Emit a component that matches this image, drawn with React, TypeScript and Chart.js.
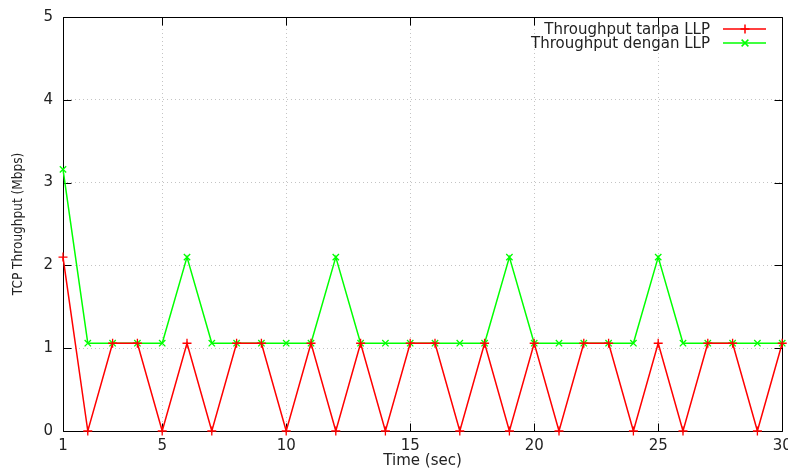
import React, { useEffect, useRef } from 'react';
import { Chart, registerables } from 'chart.js';

Chart.register(...registerables);

const timeSec = [1, 2, 3, 4, 5, 6, 7, 8, 9, 10, 11, 12, 13, 14, 15, 16, 17, 18, 19, 20, 21, 22, 23, 24, 25, 26, 27, 28, 29, 30];
const tanpaLLP = [2.1, 0, 1.06, 1.06, 0, 1.06, 0, 1.06, 1.06, 0, 1.06, 0, 1.06, 0, 1.06, 1.06, 0, 1.06, 0, 1.06, 0, 1.06, 1.06, 0, 1.06, 0, 1.06, 1.06, 0, 1.06];
const denganLLP = [3.16, 1.06, 1.06, 1.06, 1.06, 2.1, 1.06, 1.06, 1.06, 1.06, 1.06, 2.1, 1.06, 1.06, 1.06, 1.06, 1.06, 1.06, 2.1, 1.06, 1.06, 1.06, 1.06, 1.06, 2.1, 1.06, 1.06, 1.06, 1.06, 1.06];
const xTickValues = [1, 5, 10, 15, 20, 25, 30];
const yTickValues = [0, 1, 2, 3, 4, 5];
const seriesLabels = ['Throughput tanpa LLP', 'Throughput dengan LLP'];
const seriesColors = ['#ff0000', '#00ff00'];
const seriesMarkers = ['cross', 'crossRot'];
const xTitle = 'Time (sec)';
const yTitle = 'TCP Throughput (Mbps)';

const FONT = "'DejaVu Sans', sans-serif";
const TEXT = '#222222';

const gnuplotPlugin = {
  id: 'gnuplotFrame',
  beforeDatasetsDraw(chart: any) {
    const { ctx, chartArea } = chart;
    const xs = chart.scales.x;
    const ys = chart.scales.y;
    const l = Math.round(chartArea.left) + 0.5;
    const r = Math.round(chartArea.right) + 0.5;
    const t = Math.round(chartArea.top) + 0.5;
    const b = Math.round(chartArea.bottom) + 0.5;
    ctx.save();
    ctx.setLineDash([]);
    ctx.strokeStyle = '#000000';
    ctx.lineWidth = 1;
    ctx.beginPath();
    ctx.rect(l, t, r - l, b - t);
    const tl = 8;
    xTickValues.forEach((v) => {
      const px = Math.round(xs.getPixelForValue(v)) + 0.5;
      ctx.moveTo(px, b);
      ctx.lineTo(px, b - tl);
      ctx.moveTo(px, t);
      ctx.lineTo(px, t + tl);
    });
    yTickValues.forEach((v) => {
      const py = Math.round(ys.getPixelForValue(v)) + 0.5;
      ctx.moveTo(l, py);
      ctx.lineTo(l + tl, py);
      ctx.moveTo(r, py);
      ctx.lineTo(r - tl, py);
    });
    ctx.stroke();
    ctx.restore();
  },
  afterDraw(chart: any) {
    const { ctx, chartArea } = chart;
    ctx.save();
    ctx.setLineDash([]);
    ctx.fillStyle = TEXT;
    ctx.textAlign = 'center';
    ctx.textBaseline = 'middle';
    ctx.font = `15px ${FONT}`;
    ctx.fillText(xTitle, (chartArea.left + chartArea.right) / 2, 461);
    ctx.save();
    ctx.font = `13.5px ${FONT}`;
    ctx.translate(18, (chartArea.top + chartArea.bottom) / 2);
    ctx.rotate(-Math.PI / 2);
    ctx.scale(0.9, 1);
    ctx.fillText(yTitle, 0, 0);
    ctx.restore();
    const rows = [29, 43];
    ctx.font = `15px ${FONT}`;
    seriesLabels.forEach((lab, i) => {
      const y = rows[i];
      ctx.textAlign = 'right';
      ctx.textBaseline = 'middle';
      ctx.fillStyle = TEXT;
      ctx.fillText(lab, 710, y + 1);
      ctx.strokeStyle = seriesColors[i];
      ctx.lineWidth = 1.5;
      ctx.beginPath();
      ctx.moveTo(723, y);
      ctx.lineTo(766, y);
      ctx.stroke();
      const cx = 745;
      const s = 4.5;
      ctx.beginPath();
      if (seriesMarkers[i] === 'cross') {
        ctx.moveTo(cx, y - s);
        ctx.lineTo(cx, y + s);
        ctx.moveTo(cx - s, y);
        ctx.lineTo(cx + s, y);
      } else {
        const d = s * 0.75;
        ctx.moveTo(cx - d, y - d);
        ctx.lineTo(cx + d, y + d);
        ctx.moveTo(cx - d, y + d);
        ctx.lineTo(cx + d, y - d);
      }
      ctx.stroke();
    });
    ctx.restore();
  },
};

export default function App() {
  const ref = useRef<HTMLCanvasElement | null>(null);
  useEffect(() => {
    document.body.style.margin = '0';
    const canvas = ref.current;
    if (!canvas) return;
    const datasets = [tanpaLLP, denganLLP].map((vals, i) => ({
      label: seriesLabels[i],
      data: timeSec.map((t, j) => ({ x: t, y: vals[j] })),
      borderColor: seriesColors[i],
      backgroundColor: seriesColors[i],
      borderWidth: 1.5,
      pointStyle: seriesMarkers[i] as any,
      pointRadius: 4.5,
      pointBorderWidth: 1.3,
      pointBorderColor: seriesColors[i],
      pointHoverRadius: 4.5,
      tension: 0,
      fill: false,
      clip: false as any,
    }));
    const chart = new Chart(canvas, {
      type: 'line',
      data: { datasets },
      options: {
        animation: false,
        responsive: false,
        maintainAspectRatio: false,
        layout: { padding: { top: 17, right: 5, left: 0, bottom: 0 } },
        plugins: { legend: { display: false }, tooltip: { enabled: false }, title: { display: false } },
        scales: {
          x: {
            type: 'linear',
            min: 1,
            max: 30,
            afterBuildTicks: (scale: any) => {
              scale.ticks = xTickValues.map((v) => ({ value: v }));
            },
            afterFit: (scale: any) => {
              scale.height = 39;
              scale.paddingLeft = 0;
              scale.paddingRight = 0;
            },
            grid: { color: '#c4c4c4', lineWidth: 1, drawTicks: false },
            border: { display: false, dash: [1, 3] },
            ticks: {
              autoSkip: false,
              maxRotation: 0,
              padding: 6,
              color: TEXT,
              font: { family: FONT, size: 15 },
              callback: (v: any) => String(v),
            },
          },
          y: {
            type: 'linear',
            min: 0,
            max: 5,
            afterBuildTicks: (scale: any) => {
              scale.ticks = yTickValues.map((v) => ({ value: v }));
            },
            afterFit: (scale: any) => {
              scale.width = 63;
              scale.paddingTop = 0;
              scale.paddingBottom = 0;
            },
            grid: { color: '#c4c4c4', lineWidth: 1, drawTicks: false },
            border: { display: false, dash: [1, 3] },
            ticks: {
              padding: 10,
              color: TEXT,
              font: { family: FONT, size: 15 },
              callback: (v: any) => String(v),
            },
          },
        },
      },
      plugins: [gnuplotPlugin],
    });
    return () => chart.destroy();
  }, []);
  return (
    <div style={{ width: 788, height: 470, background: '#ffffff' }}>
      <canvas ref={ref} width={788} height={470} />
    </div>
  );
}
